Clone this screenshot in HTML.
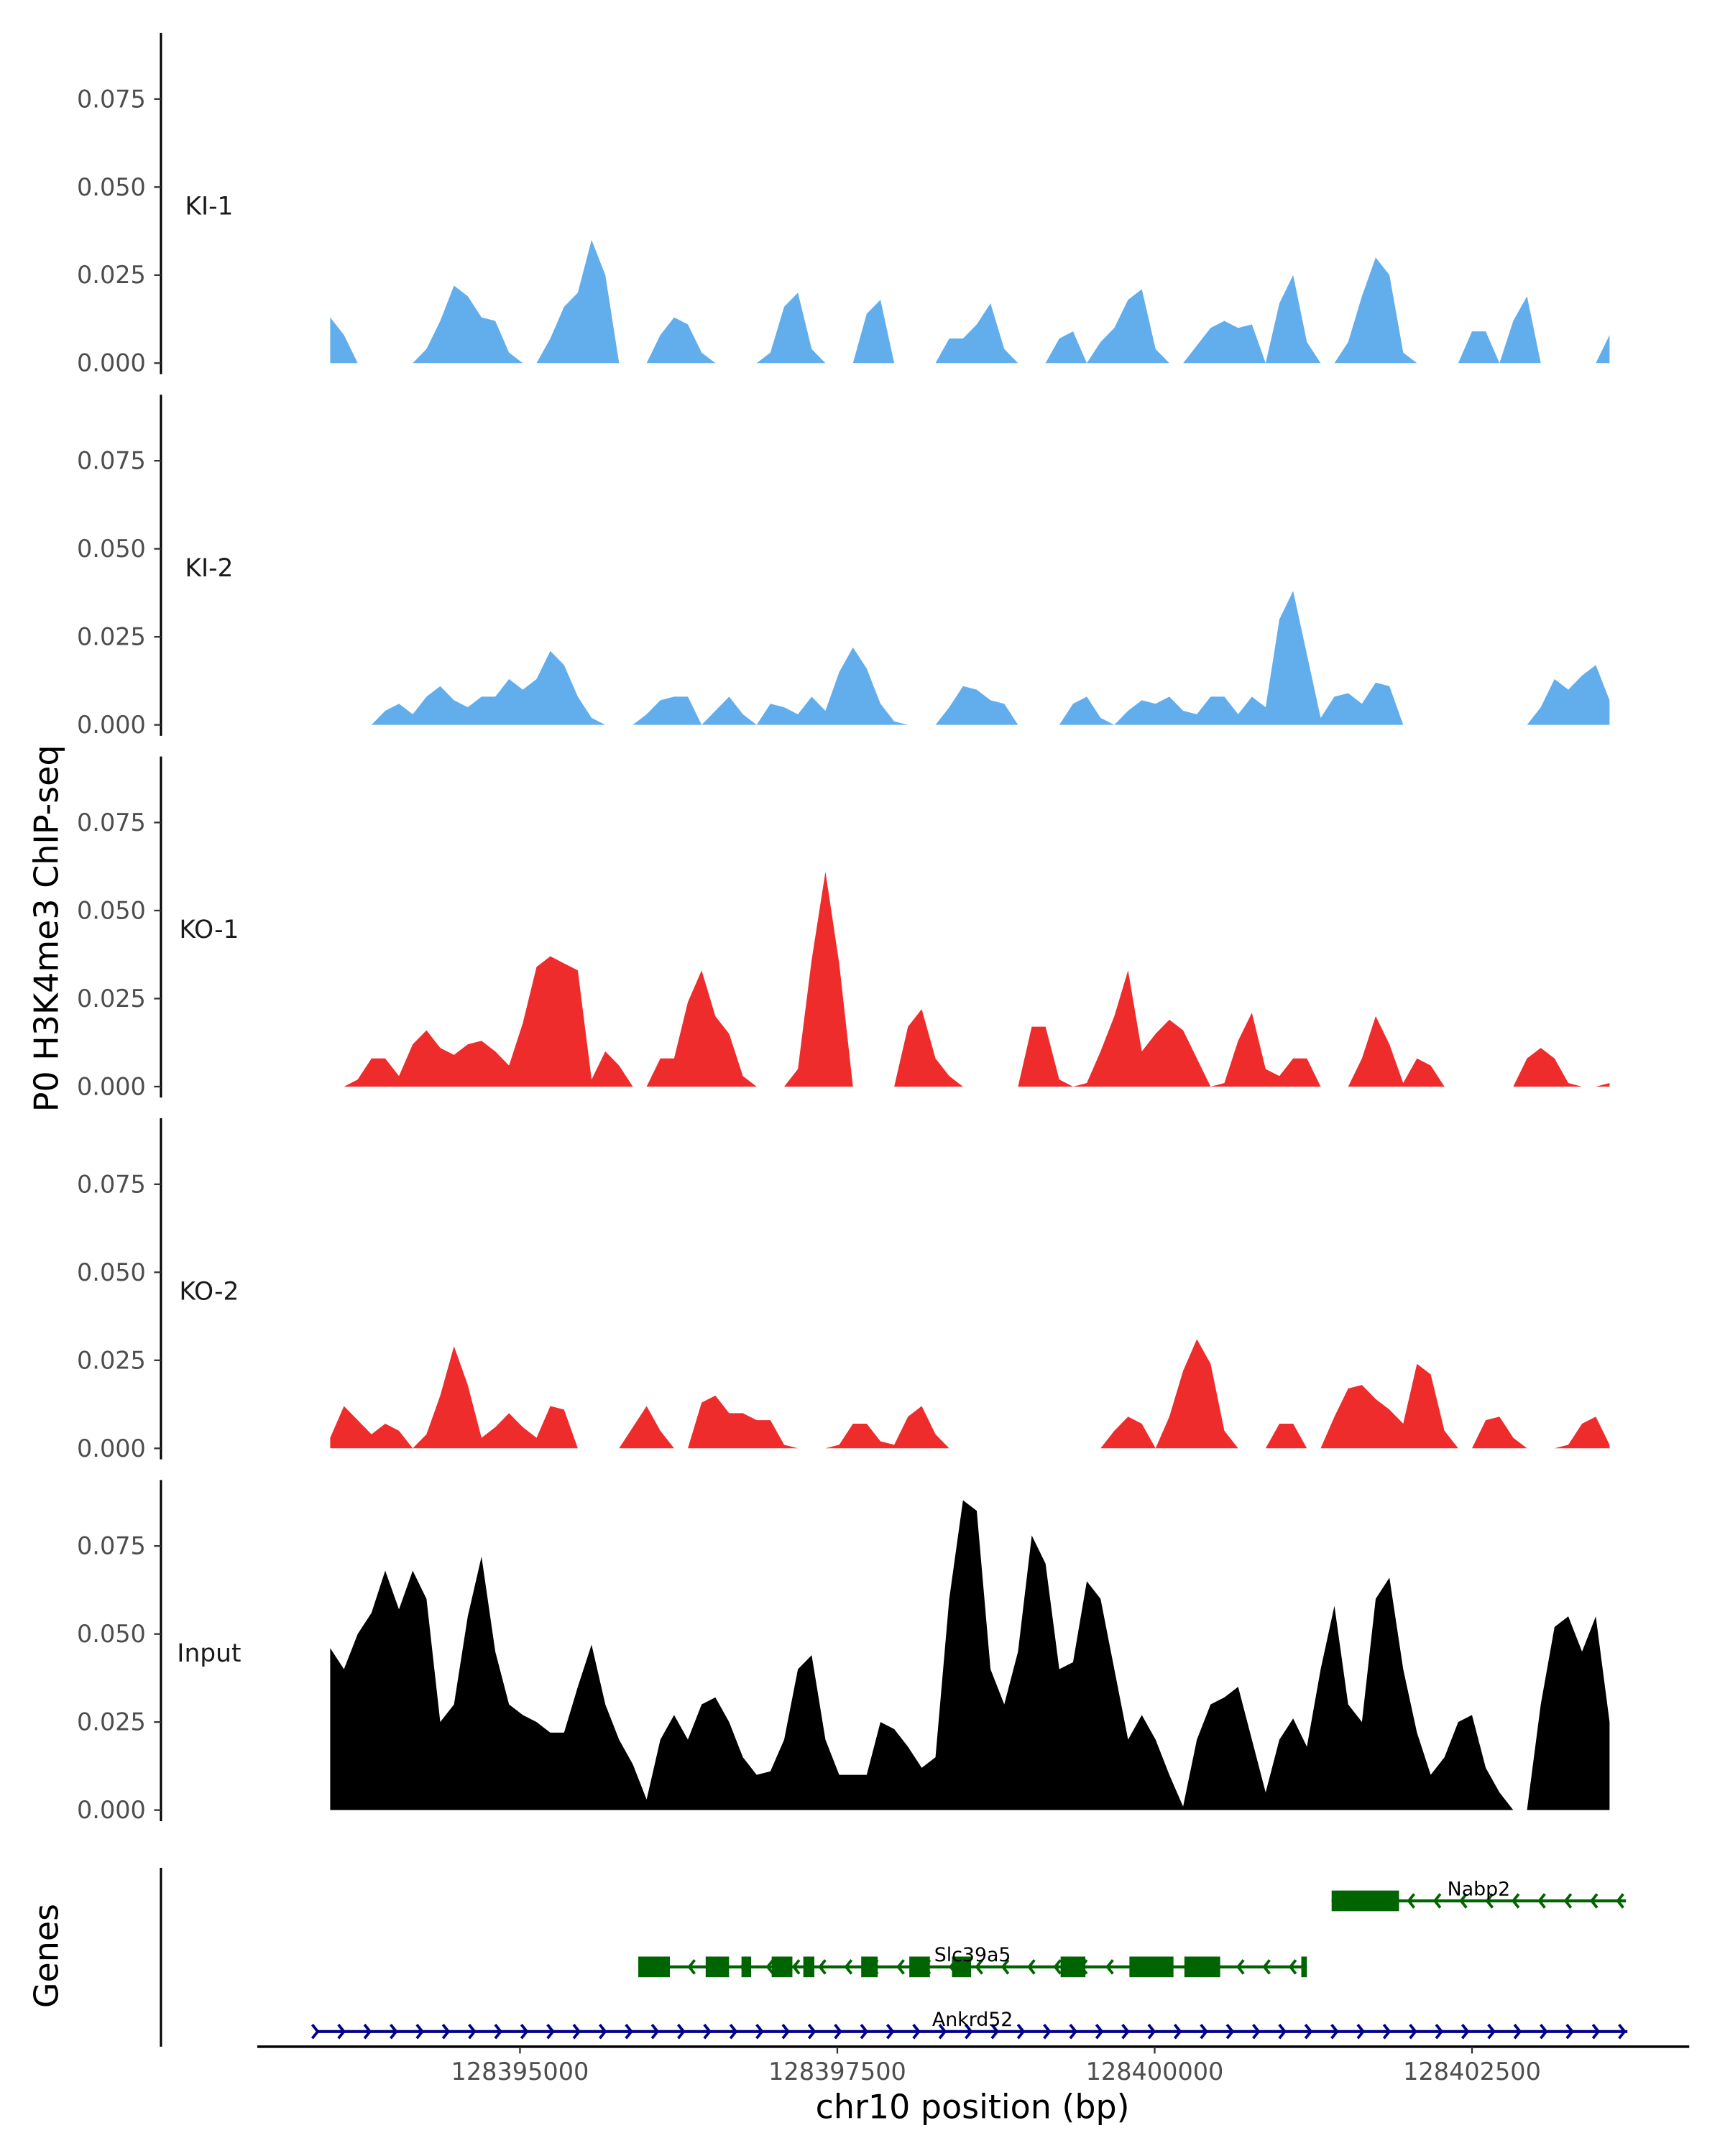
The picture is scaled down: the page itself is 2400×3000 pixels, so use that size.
<!DOCTYPE html>
<html><head><meta charset="utf-8"><style>
html,body{margin:0;padding:0;background:#fff;}
svg{display:block;}
text{font-family:"DejaVu Sans","Liberation Sans",sans-serif;}
</style></head><body>
<svg id="chart" xmlns="http://www.w3.org/2000/svg" width="2400" height="3000" viewBox="0 0 1254 1567.5"></svg>
<script>
// ---- data ----
const binStart = 128393505;      // bp of first bin
const binStep = 108.37;          // bp per bin
const trackNames = ["KI-1","KI-2","KO-1","KO-2","Input"];
const trackColors = ["#62aeed","#62aeed","#ee2c2c","#ee2c2c","#000000"];
const yTicks = [0, 0.025, 0.05, 0.075];
const yTickLabels = ["0.000","0.025","0.050","0.075"];
const xTicks = [128395000,128397500,128400000,128402500];
const ki1 = [13,8,0,0,0,0,0,4,12,22,19,13,12,3,0,0,7,16,20,35,25,0,0,0,8,13,11,3,0,0,0,0,3,16,20,4,0,0,0,14,18,0,0,0,0,7,7,11,17,4,0,0,0,7,9,0,6,10,18,21,4,0,0,5,10,12,10,11,0,17,25,6,0,0,6,19,30,25,3,0,0,0,0,9,9,0,12,19,0,0,0,0,0,8];
const ki2 = [0,0,0,0,4,6,3,8,11,7,5,8,8,13,10,13,21,17,8,2,0,0,0,3,7,8,8,0,4,8,3,0,6,5,3,8,4,15,22,16,6,1,0,0,0,5,11,10,7,6,0,0,0,0,6,8,2,0,4,7,6,8,4,3,8,8,3,8,5,30,38,20,2,8,9,6,12,11,0,0,0,0,0,0,0,0,0,0,5,13,10,14,17,7];
const ko1 = [0,0,2,8,8,3,12,16,11,9,12,13,10,6,18,34,37,35,33,2,10,6,0,0,8,8,24,33,20,15,3,0,0,0,5,36,61,35,0,0,0,0,17,22,8,3,0,0,0,0,0,17,17,2,0,1,10,20,33,10,15,19,16,8,0,1,13,21,5,3,8,8,0,0,0,8,20,12,1,8,6,0,0,0,0,0,0,8,11,8,1,0,0,1];
const ko2 = [3,12,8,4,7,5,0,4,15,29,18,3,6,10,6,3,12,11,0,0,0,0,6,12,5,0,0,13,15,10,10,8,8,1,0,0,0,1,7,7,2,1,9,12,4,0,0,0,0,0,0,0,0,0,0,0,0,5,9,7,0,9,22,31,24,5,0,0,0,7,7,0,0,9,17,18,14,11,7,24,21,5,0,0,8,9,3,0,0,0,1,7,9,1];
const inp = [46,40,50,56,68,57,68,60,25,30,55,72,45,30,27,25,22,22,35,47,30,20,13,3,20,27,20,30,32,25,15,10,11,20,40,44,20,10,10,10,25,23,18,12,15,60,88,85,40,30,45,78,70,40,42,65,60,40,20,27,20,10,1,20,30,32,35,20,5,20,26,18,40,58,30,25,60,66,40,22,10,15,25,27,12,5,0,0,30,52,55,45,55,25];
const trackValues = [ki1,ki2,ko1,ko2,inp];
// genes
const slcExonStarts = [128395932,128396463,128396745,128396983,128397232,128397688,128398067,128398403,128399259,128399801,128400234,128401155];
const slcExonEnds   = [128396181,128396647,128396821,128397146,128397319,128397818,128398229,128398554,128399454,128400148,128400516,128401199];
const slcRange = [128395932,128401199];
const nabpRange = [128401394,128403713];
const nabpExon = [128401394,128401925];
const ankRange = [128393396,128403724];

// ---- scales ----
const NS="http://www.w3.org/2000/svg";
const svg=document.getElementById('chart');
const xs = bp => 378 + (bp-128395000)*230.7/2500;
const panelBase = [264,527,790,1053,1316];
const ys = (p,v) => panelBase[p] - v*2560;
function mk(tag,attrs,parent){const e=document.createElementNS(NS,tag);for(const k in attrs)e.setAttribute(k,attrs[k]);(parent||svg).appendChild(e);return e;}

for(let p=0;p<5;p++){
  const g=mk('g',{});
  
  
  const ax=mk('line',{x1:117,x2:117,y1:panelBase[p]-240,y2:panelBase[p]+8,stroke:'#000','stroke-width':1.6},g);
  
  
  yTicks.forEach((t,i)=>{
    const y=ys(p,t);
    const tk=mk('line',{x1:112,x2:117,y1:y,y2:y,stroke:'#333','stroke-width':1.2},g);
    
    
    const tl=mk('text',{x:106,y:y+6,'text-anchor':'end','font-size':17.5,fill:'#4d4d4d'},g);
    
    
    tl.textContent=yTickLabels[i];
  });
  const lab=mk('text',{x:152,y:panelBase[p]-108,'text-anchor':'middle','font-size':18,fill:'#1a1a1a'},g);
  
  
  lab.textContent=trackNames[p];
  const vals=trackValues[p];
  let d='M'+xs(binStart)+','+panelBase[p];
  vals.forEach((v,i)=>{d+=' L'+xs(binStart+i*binStep).toFixed(2)+','+ys(p,v/1000).toFixed(2);});
  d+=' L'+xs(binStart+(vals.length-1)*binStep).toFixed(2)+','+panelBase[p]+' Z';
  const ar=mk('path',{d:d,fill:trackColors[p]},g);
  
  
}

const gAx=mk('line',{x1:117,x2:117,y1:1358,y2:1488,stroke:'#000','stroke-width':1.6});


function gene(name,range,exS,exE,y,color,dir,labelX){
  const g=mk('g',{});
  
  
  mk('line',{x1:xs(range[0]),x2:xs(range[1]),y1:y,y2:y,stroke:color,'stroke-width':2.2},g);
  for(let x=xs(range[0])+ (dir>0?0:19); x<=xs(range[1])+0.5; x+=19){
    const pts = dir>0 ? `${x-3},${y-5} ${x+1},${y} ${x-3},${y+5}` : `${x+3},${y-5} ${x-1},${y} ${x+3},${y+5}`;
    mk('polyline',{points:pts,fill:'none',stroke:color,'stroke-width':2},g);
  }
  exS.forEach((s,i)=>{mk('rect',{x:xs(s),y:y-7.5,width:xs(exE[i])-xs(s),height:15,fill:color},g);});
  const t=mk('text',{x:labelX,y:y-4,'text-anchor':'middle','font-size':14,fill:'#000'},g);
  
  
  t.textContent=name;
}
gene('Nabp2',nabpRange,[nabpExon[0]],[nabpExon[1]],1382,'#006400',-1,1075);
gene('Slc39a5',slcRange,slcExonStarts,slcExonEnds,1430,'#006400',-1,707);
gene('Ankrd52',ankRange,[],[],1477,'#00008b',1,707);

const xa=mk('line',{x1:187,x2:1228,y1:1488,y2:1488,stroke:'#000','stroke-width':1.8});


xTicks.forEach(t=>{
  const x=xs(t);
  const tk=mk('line',{x1:x,x2:x,y1:1488,y2:1493,stroke:'#333','stroke-width':1.2});
  
  
  const tl=mk('text',{x:x,y:1512,'text-anchor':'middle','font-size':17.5,fill:'#4d4d4d'});
  
  
  tl.textContent=String(t);
});
const xt=mk('text',{x:707,y:1540,'text-anchor':'middle','font-size':24,fill:'#000'});


xt.textContent='chr10 position (bp)';
const yt=mk('text',{x:0,y:0,'text-anchor':'middle','font-size':24,fill:'#000',transform:'translate(42,675) rotate(-90)'});


yt.textContent='P0 H3K4me3 ChIP-seq';
const gt=mk('text',{x:0,y:0,'text-anchor':'middle','font-size':24,fill:'#000',transform:'translate(42,1422) rotate(-90)'});


gt.textContent='Genes';
</script>
</body></html>
